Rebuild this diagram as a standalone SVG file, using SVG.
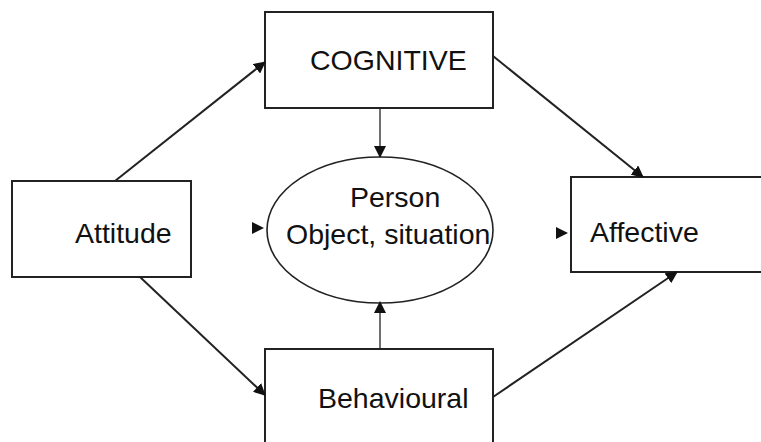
<svg xmlns="http://www.w3.org/2000/svg" width="761" height="442" viewBox="0 0 761 442">
<defs>
<style>
.box{fill:#fff;stroke:#222;stroke-width:2}
.ell{fill:#fff;stroke:#222;stroke-width:1.6}
.lbl{font-family:"Liberation Sans",Arial,sans-serif;font-size:28.5px;fill:#111}
.con line{stroke:#222;stroke-width:2}
.thin{stroke-width:1.3 !important}
.head{fill:#111}
</style>
<marker id="arr" viewBox="0 0 12 12" refX="11" refY="6" markerWidth="12" markerHeight="12" markerUnits="userSpaceOnUse" orient="auto">
<path d="M0,0 L12,6 L0,12 z" class="head"/>
</marker>
</defs>
<rect width="761" height="442" fill="#fff"/>
<g id="cognitive">
<rect class="box" x="265" y="12" width="228" height="96"/>
<text class="lbl" x="310" y="70">COGNITIVE</text>
</g>
<g id="attitude">
<rect class="box" x="12" y="181" width="179" height="96"/>
<text class="lbl" x="75" y="243">Attitude</text>
</g>
<g id="affective">
<rect class="box" x="571" y="177" width="200" height="95"/>
<text class="lbl" x="590" y="242">Affective</text>
</g>
<g id="behavioural">
<rect class="box" x="265" y="349" width="228" height="110"/>
<text class="lbl" x="318" y="408">Behavioural</text>
</g>
<g id="center">
<ellipse class="ell" cx="380" cy="230" rx="113" ry="73"/>
<text class="lbl" x="350" y="207">Person</text>
<text class="lbl" x="286" y="244">Object, situation</text>
</g>
<g id="connectors" class="con">
<line x1="115" y1="181" x2="265" y2="62" marker-end="url(#arr)"/>
<line x1="140" y1="277" x2="265" y2="395" marker-end="url(#arr)"/>
<line x1="493" y1="56" x2="643" y2="177" marker-end="url(#arr)"/>
<line x1="493" y1="397" x2="677" y2="272" marker-end="url(#arr)"/>
<line class="thin" x1="380" y1="108" x2="380" y2="157" marker-end="url(#arr)"/>
<line class="thin" x1="380" y1="349" x2="380" y2="302" marker-end="url(#arr)"/>
<path class="head" d="M252,222 L264,228 L252,234 z"/>
<path class="head" d="M556,227 L568,233 L556,239 z"/>
</g>
</svg>
